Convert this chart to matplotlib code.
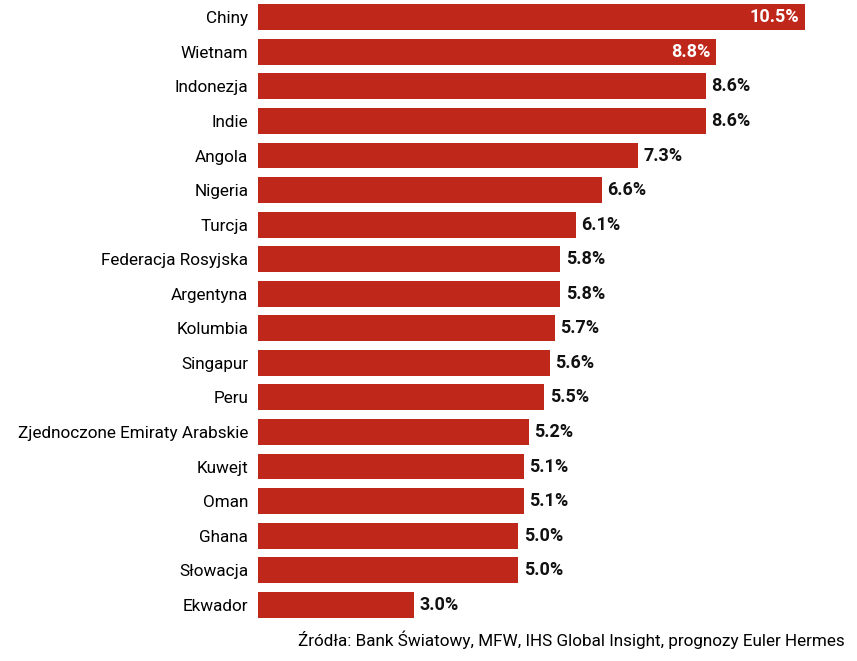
import matplotlib
matplotlib.use("Agg")
import matplotlib.pyplot as plt

countries = ["Chiny", "Wietnam", "Indonezja", "Indie", "Angola", "Nigeria", "Turcja",
             "Federacja Rosyjska", "Argentyna", "Kolumbia", "Singapur", "Peru",
             "Zjednoczone Emiraty Arabskie", "Kuwejt", "Oman", "Ghana", "Słowacja", "Ekwador"]
values = [10.5, 8.8, 8.6, 8.6, 7.3, 6.6, 6.1, 5.8, 5.8, 5.7, 5.6, 5.5, 5.2, 5.1, 5.1, 5.0, 5.0, 3.0]
inside = [True, True] + [False] * 16
source = "Źródła: Bank Światowy, MFW, IHS Global Insight, prognozy Euler Hermes"

plt.rcParams["font.family"] = ["Roboto", "DejaVu Sans"]

red = "#C0271B"
fig = plt.figure(figsize=(8.57, 6.61), dpi=100)
ax = fig.add_axes([258 / 857, 39 / 661, 599 / 857, 622 / 661])
y = list(range(len(countries)))
ax.barh(y, values, height=0.75, color=red)
ax.set_xlim(0, 11.5)
ax.set_ylim(len(countries) - 0.5, -0.5)
ax.set_yticks(y)
ax.set_yticklabels(countries, fontsize=12.3)
ax.tick_params(axis="y", length=0, pad=7)
ax.set_xticks([])
for s in ax.spines.values():
    s.set_visible(False)

for yi, v, ins in zip(y, values, inside):
    lab = f"{v:.1f}%"
    if ins:
        ax.annotate(lab, (v, yi), xytext=(-4, 0), textcoords="offset points",
                    ha="right", va="center", color="white", fontsize=13, fontweight="bold")
    else:
        ax.annotate(lab, (v, yi), xytext=(4, 0), textcoords="offset points",
                    ha="left", va="center", color="#111111", fontsize=13, fontweight="bold")

fig.text(845 / 857, 1 - 640 / 661, source, ha="right", va="center", fontsize=12.3)
fig.savefig("out.png", dpi=100)
